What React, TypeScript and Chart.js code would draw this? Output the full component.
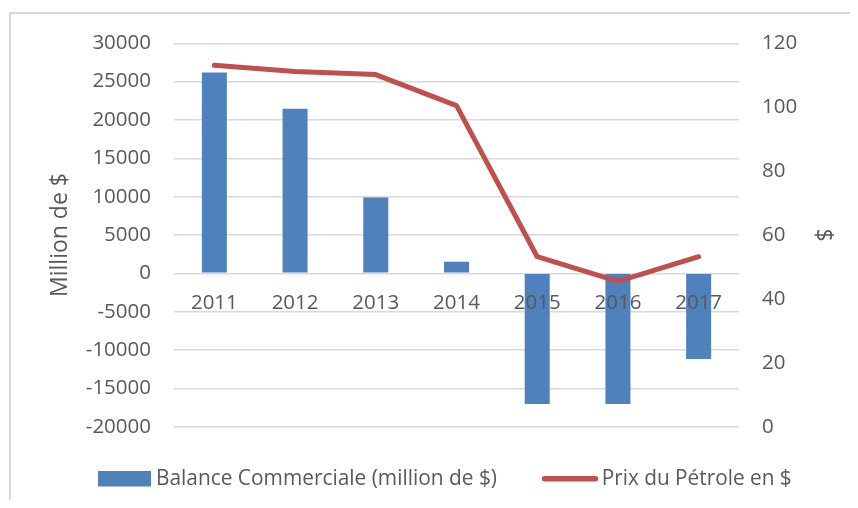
import React, { useEffect, useRef } from "react";
import { Chart, registerables } from "chart.js";
Chart.register(...registerables);

const years = ["2011", "2012", "2013", "2014", "2015", "2016", "2017"];
const balance = [26200, 21450, 9900, 1500, -17050, -17050, -11170];
const oilPrice = [113.1, 111.2, 110.2, 100.5, 53.2, 45.5, 53.2];
const balanceLabel = "Balance Commerciale (million de $)";
const oilLabel = "Prix du Pétrole en $";
const leftTitle = "Million de $";
const rightTitle = "$";

const FONT = "'Open Sans', sans-serif";
const TEXT = "#595959";
const GRID = "#d9d9d9";

const framePlugin = {
  id: "frame",
  beforeDraw(chart: any) {
    const ctx = chart.ctx;
    ctx.save();
    ctx.strokeStyle = GRID;
    ctx.lineWidth = 2;
    ctx.beginPath();
    ctx.moveTo(2, chart.height);
    ctx.lineTo(2, 5);
    ctx.lineTo(chart.width, 5);
    ctx.stroke();
    ctx.restore();
  },
};

const legendPlugin = {
  id: "customLegend",
  afterDraw(chart: any) {
    const ctx = chart.ctx;
    const ds0 = chart.data.datasets[0];
    const ds1 = chart.data.datasets[1];
    ctx.save();
    ctx.fillStyle = ds0.backgroundColor;
    ctx.fillRect(90, 463, 53, 15.5);
    ctx.font = `22px ${FONT}`;
    ctx.fillStyle = TEXT;
    ctx.textBaseline = "middle";
    ctx.textAlign = "left";
    ctx.fillText(ds0.label, 148, 471, 341);
    ctx.strokeStyle = ds1.borderColor;
    ctx.lineWidth = 5.5;
    ctx.lineCap = "round";
    ctx.beginPath();
    ctx.moveTo(536.5, 470.7);
    ctx.lineTo(587.5, 470.7);
    ctx.stroke();
    ctx.fillText(ds1.label, 593.7, 471, 190);
    ctx.restore();
  },
};

export default function App() {
  const ref = useRef<HTMLCanvasElement>(null);
  useEffect(() => {
    if (!ref.current) return;
    const chart = new Chart(ref.current, {
      type: "bar",
      data: {
        labels: years,
        datasets: [
          {
            type: "bar",
            label: balanceLabel,
            data: balance,
            backgroundColor: "#4f81bd",
            yAxisID: "y",
            barPercentage: 0.31,
            categoryPercentage: 1,
            order: 1,
          } as any,
          {
            type: "line",
            label: oilLabel,
            data: oilPrice,
            borderColor: "#c0504d",
            backgroundColor: "#c0504d",
            borderWidth: 5,
            pointRadius: 0,
            borderCapStyle: "round",
            borderJoinStyle: "round",
            tension: 0,
            yAxisID: "y1",
            order: 0,
          } as any,
        ],
      },
      options: {
        responsive: false,
        animation: false,
        layout: { padding: { top: 33.7, bottom: 73.3, left: 0, right: 0 } },
        plugins: { legend: { display: false }, tooltip: { enabled: false } },
        scales: {
          x: {
            position: { y: 0 } as any,
            grid: { display: false, drawTicks: false },
            border: { display: false },
            ticks: { z: 1, color: TEXT, font: { family: FONT, size: 20.5 }, padding: 18, maxRotation: 0 } as any,
          },
          y: {
            position: "left",
            min: -20000,
            max: 30000,
            ticks: {
              stepSize: 5000,
              color: TEXT,
              font: { family: FONT, size: 20.5 },
              padding: 23,
              callback: (v: any) => String(v),
            },
            grid: { color: GRID, lineWidth: 1.5, drawTicks: false },
            border: { display: false },
            title: {
              display: true,
              text: leftTitle,
              color: TEXT,
              font: { family: FONT, size: 23 },
              padding: { top: 39, bottom: 0 },
            },
            afterFit: (s: any) => {
              s.width = 166;
            },
          },
          y1: {
            position: "right",
            min: 0,
            max: 120,
            ticks: {
              stepSize: 20,
              color: TEXT,
              font: { family: FONT, size: 20.5 },
              padding: 23,
            },
            grid: { display: false, drawTicks: false },
            border: { display: false },
            title: {
              display: true,
              text: rightTitle,
              color: TEXT,
              font: { family: FONT, size: 23 },
              padding: { top: 14, bottom: 0 },
            },
            afterFit: (s: any) => {
              s.width = 111;
            },
          },
        },
      },
      plugins: [framePlugin, legendPlugin],
    });
    return () => chart.destroy();
  }, []);
  return (
    <div style={{ width: 842, height: 492 }}>
      <canvas ref={ref} width={842} height={492} style={{ width: 842, height: 492, display: "block" }} />
    </div>
  );
}
